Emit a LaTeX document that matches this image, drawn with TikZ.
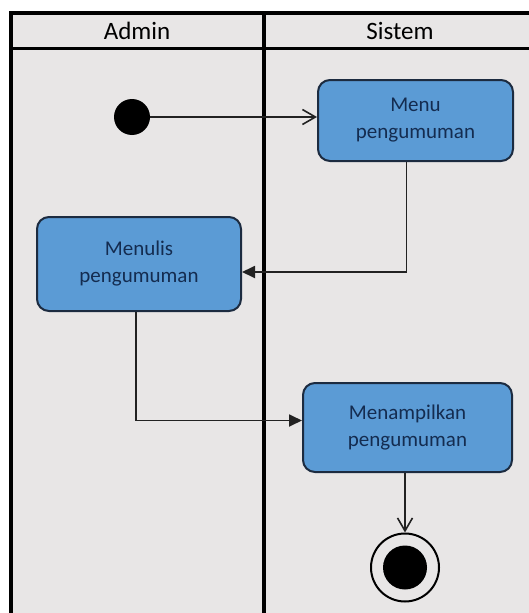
\documentclass[tikz,border=0pt]{standalone}
\usepackage{fontspec}
\setmainfont{Carlito}
\usetikzlibrary{arrows.meta}
\definecolor{lanebg}{HTML}{E8E6E6}
\definecolor{actfill}{HTML}{5B9BD5}
\definecolor{actline}{HTML}{1C2B40}
\definecolor{acttext}{HTML}{142C50}
\definecolor{flow}{HTML}{222222}
\tikzset{
  lane/.style={line width=4pt, black},
  header/.style={font=\fontsize{25}{28}\selectfont, text=black, anchor=center},
  activity/.style={draw=actline, line width=2pt, fill=actfill, rounded corners=12pt,
    text=acttext, align=center, font=\fontsize{21}{27}\selectfont, inner sep=0pt},
  flowline/.style={draw=flow, line width=1.8pt},
  openhead/.style={flowline, -{Straight Barb[length=13pt,width=15pt,line width=1.6pt]}},
  solidhead/.style={flowline, -{Triangle[length=13pt,width=12pt]}},
}
\begin{document}
\begin{tikzpicture}[x=1pt,y=-1pt]
\useasboundingbox (0,0) rectangle (529,613);
\fill[white] (0,0) rectangle (529,613);
% swimlane background and frame
\fill[lanebg] (10.5,13) rectangle (529,613);
\draw[lane] (10.5,613) -- (10.5,13) -- (529,13);
\draw[line width=3.5pt] (10.5,48.5) -- (529,48.5);
\draw[lane] (264,13) -- (264,613);
\node[header] (hadmin) at (137,31) {Admin};
\node[header] (hsistem) at (400,31) {Sistem};

% activities
\node[activity, minimum width=195pt, minimum height=81pt] (menu) at (415.5,120.5) {Menu\\pengumuman};
\node[activity, minimum width=204pt, minimum height=94pt] (menulis) at (139,264) {Menulis\\pengumuman};
\node[activity, minimum width=209pt, minimum height=89pt] (tampil) at (407.5,427.5) {Menampilkan\\pengumuman};

% initial and final states
\node[circle, fill=black, minimum size=36pt, inner sep=0pt] (start) at (132,117) {};
\node[circle, draw=black, line width=2pt, fill=lanebg, minimum size=68pt, inner sep=0pt] (end) at (405,567.5) {};
\node[circle, fill=black, minimum size=44pt, inner sep=0pt] (endcore) at (end.center) {};

% control flow
\draw[openhead] (start.east) -- (start -| menu.west);
\draw[solidhead] ([xshift=-9pt]menu.south) |- ([yshift=-8pt]menulis.east);
\draw[solidhead] ([xshift=-3pt]menulis.south) |- ([yshift=7pt]tampil.west);
\draw[openhead] (tampil.south -| end) -- (end.north);
\end{tikzpicture}
\end{document}
